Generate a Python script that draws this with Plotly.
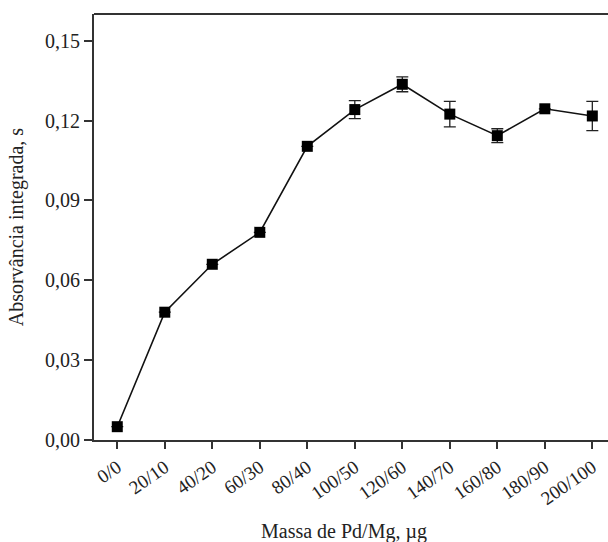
import plotly.graph_objects as go

# Pd/Mg modifier mass (µg) and integrated absorbance (s)
categories = ["0/0", "20/10", "40/20", "60/30", "80/40", "100/50",
              "120/60", "140/70", "160/80", "180/90", "200/100"]
absorbance = [0.005, 0.048, 0.066, 0.078, 0.1103, 0.1241,
              0.1336, 0.1224, 0.1143, 0.1244, 0.1217]
std_dev = [0.0, 0.0, 0.0, 0.0, 0.0, 0.0034,
           0.0028, 0.0048, 0.0026, 0.0, 0.0055]
y_ticks = [0.00, 0.03, 0.06, 0.09, 0.12, 0.15]

x_pos = list(range(len(categories)))
font_family = "Liberation Serif, Times New Roman, serif"
axis_color = "#333333"

fig = go.Figure()
fig.add_trace(go.Scatter(
    x=x_pos, y=absorbance,
    mode="lines+markers",
    line=dict(color="#111111", width=1.6),
    marker=dict(symbol="square", size=11, color="#000000"),
    error_y=dict(type="data", array=std_dev, visible=True,
                 color="#222222", thickness=1.3, width=6),
    showlegend=False,
))

fig.update_layout(
    width=608, height=542,
    margin=dict(l=94, r=0, t=14, b=102),
    paper_bgcolor="white", plot_bgcolor="white",
    separators=", ",
    font=dict(family=font_family, color="#222222", size=20),
    xaxis=dict(
        range=[-0.49, 10.33],
        tickmode="array", tickvals=x_pos, ticktext=categories,
        tickangle=-35,
        showline=True, linecolor=axis_color, linewidth=2,
        ticks="outside", ticklen=7, tickwidth=1.5, tickcolor=axis_color,
        showgrid=False, zeroline=False,
        tickfont=dict(size=19),
    ),
    yaxis=dict(
        range=[0, 0.160],
        tickmode="array", tickvals=y_ticks,
        tickformat=".2f",
        showline=True, linecolor=axis_color, linewidth=2,
        ticks="outside", ticklen=8, tickwidth=1.5, tickcolor=axis_color,
        showgrid=False, zeroline=False,
        tickfont=dict(size=20),
        title=dict(text="Absorvância integrada, s",
                   font=dict(size=20), standoff=16),
    ),
    shapes=[dict(type="line", xref="paper", yref="paper",
                 x0=0, x1=1, y0=1, y1=1,
                 line=dict(color=axis_color, width=2))],
    annotations=[dict(text="Massa de Pd/Mg, µg", xref="paper", yref="paper",
                      x=(344 - 94) / 514, y=-(531 - 440) / 426,
                      xanchor="center", yanchor="middle",
                      showarrow=False, font=dict(size=20))],
)

fig.write_html("out.html")
